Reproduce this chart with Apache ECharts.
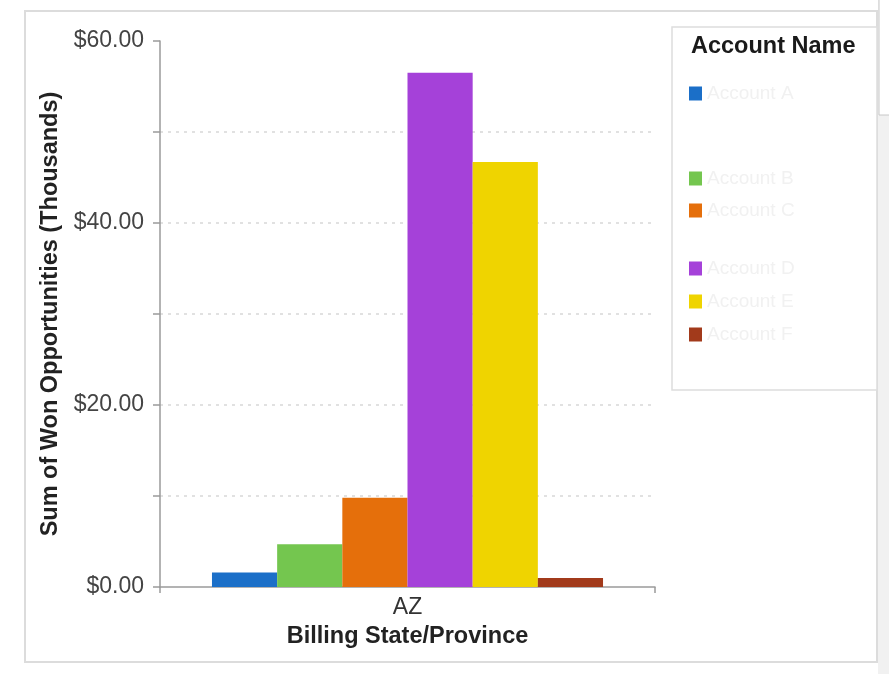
<!DOCTYPE html>
<html>
<head>
<meta charset="utf-8">
<script src="https://cdn.jsdelivr.net/npm/echarts@6/dist/echarts.min.js"></script>
<style>
  html, body { margin: 0; padding: 0; background: #fff; }
  #chart { width: 889px; height: 674px; }
</style>
</head>
<body>
<div id="chart"></div>
<script>
// Won opportunities by billing state, one bar per account
const categories = ['AZ'];
const accountNames = ['Account A', 'Account B', 'Account C', 'Account D', 'Account E', 'Account F'];
const accountValues = [1.6, 4.7, 9.8, 56.5, 46.7, 1.0];
const accountColors = ['#1b6fc8', '#74c64f', '#e56f0b', '#a541d9', '#efd400', '#a23a1b'];
const legendTops = [84, 169, 201, 259, 292, 325];
const yTicks = [0, 20, 40, 60];

const FONT = '"Liberation Sans", Arial, sans-serif';

const chart = echarts.init(document.getElementById('chart'), null, { renderer: 'canvas' });

const series = accountNames.map((name, i) => ({
  name: name,
  type: 'bar',
  barGap: '0%',
  barCategoryGap: '21%',
  itemStyle: { color: accountColors[i] },
  data: [accountValues[i]]
}));

// one legend block per account so each entry sits at its own row
const legends = accountNames.map((name, i) => ({
  data: [name],
  orient: 'vertical',
  left: 689,
  top: legendTops[i],
  padding: 0,
  itemWidth: 13,
  itemHeight: 14,
  itemGap: 0,
  icon: 'rect',
  selectedMode: false,
  textStyle: { color: '#f1f1f1', fontFamily: FONT, fontSize: 19 }
}));

chart.setOption({
  animation: false,
  backgroundColor: '#ffffff',
  textStyle: { fontFamily: FONT },
  graphic: [
    // panel frame
    { type: 'rect', shape: { x: 25, y: 11, width: 852, height: 651 },
      style: { fill: 'none', stroke: '#dcdcdc', lineWidth: 2 }, z: -1 },
    // scroll strip on the right
    { type: 'rect', shape: { x: 878, y: 0, width: 11, height: 674 },
      style: { fill: '#f1f1f1', stroke: 'none' }, z: -1 },
    { type: 'rect', shape: { x: 879, y: -2, width: 12, height: 117 },
      style: { fill: '#ffffff', stroke: '#c8c8c8', lineWidth: 1 }, z: -1 },
    // legend box
    { type: 'rect', shape: { x: 672, y: 27, width: 205, height: 363 },
      style: { fill: '#ffffff', stroke: '#dddddd', lineWidth: 1.5 }, z: -1 },
    { type: 'text', left: 691, top: 35,
      style: { text: 'Account Name', fill: '#1a1a1a', font: 'bold 23.5px ' + FONT } }
  ],
  legend: legends,
  grid: { left: 160, right: 234, top: 41, bottom: 87, containLabel: false },
  xAxis: {
    type: 'category',
    data: categories,
    name: 'Billing State/Province',
    nameLocation: 'middle',
    nameGap: 38,
    nameTextStyle: { color: '#222', fontWeight: 'bold', fontSize: 23.5, fontFamily: FONT },
    axisLine: { lineStyle: { color: '#9a9a9a', width: 1.5 } },
    axisTick: { show: true, length: 6, lineStyle: { color: '#9a9a9a', width: 1.5 } },
    axisLabel: { color: '#333', fontSize: 23, margin: 9, fontFamily: FONT }
  },
  yAxis: {
    type: 'value',
    min: 0,
    max: 60,
    interval: 10,
    name: 'Sum of Won Opportunities (Thousands)',
    nameLocation: 'middle',
    nameGap: 90,
    nameTextStyle: { color: '#222', fontWeight: 'bold', fontSize: 23.5, fontFamily: FONT },
    axisLine: { show: true, lineStyle: { color: '#9a9a9a', width: 1.5 } },
    axisTick: { show: true, length: 7, lineStyle: { color: '#9a9a9a', width: 1.5 } },
    axisLabel: {
      color: '#444', fontSize: 23, margin: 16, fontFamily: FONT,
      formatter: v => yTicks.includes(v) ? '$' + v.toFixed(2) : ''
    },
    splitLine: {
      show: true,
      showMinLine: false,
      showMaxLine: false,
      lineStyle: { color: '#d8d8d8', type: [3, 5], width: 1.5 }
    }
  },
  series: series
});
</script>
</body>
</html>
